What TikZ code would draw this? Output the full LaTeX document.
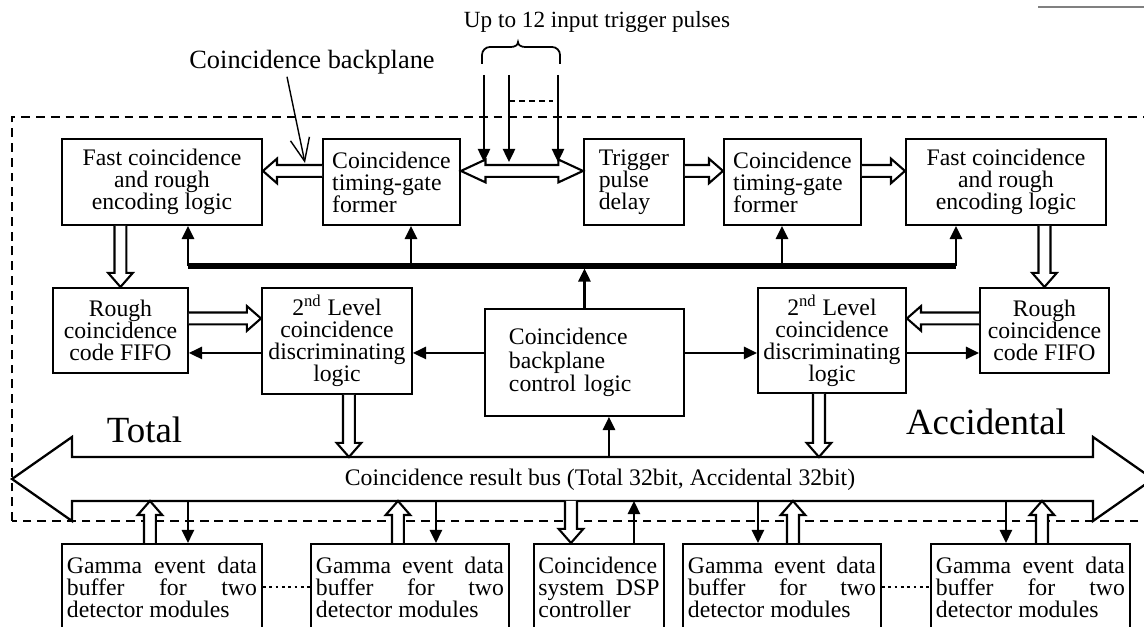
\documentclass[tikz,border=0pt]{standalone}
\usepackage{fontspec}
\setmainfont{Liberation Serif}
\usetikzlibrary{calc, arrows.meta}

\newcommand{\boxfont}{\fontsize{13.5}{12.5}\selectfont}
% hollow bus arrow: [head length]{start}{tip}
\newcommand{\fatarrow}[3][8pt]{%
  \draw[fatline] let \p1=#2, \p2=#3,
      \n1={atan2(\y2-\y1,\x2-\x1)}, \n2={veclen(\x2-\x1,\y2-\y1)} in
    [shift={(\p1)}, rotate=\n1]
    (0pt,3.4pt) -- ({\n2*1pt-#1},3.4pt) -- ({\n2*1pt-#1},7pt) -- ({\n2*1pt},0pt)
    -- ({\n2*1pt-#1},-7pt) -- ({\n2*1pt-#1},-3.4pt) -- (0pt,-3.4pt);
}
% hollow arrow with two heads
\newcommand{\fatdouble}[3][14pt]{%
  \draw[fatline] let \p1=#2, \p2=#3,
      \n1={atan2(\y2-\y1,\x2-\x1)}, \n2={veclen(\x2-\x1,\y2-\y1)} in
    [shift={(\p1)}, rotate=\n1]
    (0pt,0pt) -- (#1,6.5pt) -- (#1,3.4pt) -- ({\n2*1pt-#1},3.4pt) -- ({\n2*1pt-#1},6.5pt)
    -- ({\n2*1pt},0pt) -- ({\n2*1pt-#1},-6.5pt) -- ({\n2*1pt-#1},-3.4pt) -- (#1,-3.4pt)
    -- (#1,-6.5pt) -- cycle;
}

\begin{document}
\begin{tikzpicture}[
    block/.style={draw, line width=1.1pt, inner sep=1pt, font=\boxfont,
      align=center, anchor=north west, minimum height=1.72cm},
    leftblock/.style={block, align=left},
    justblock/.style={draw, line width=1.1pt, font=\boxfont, align=justify,
      anchor=north west, inner xsep=0.1cm, inner ysep=0.26cm},
    fatline/.style={line width=1.2pt, fill=white, line join=miter},
    arrowstyle/.style={line width=1.2pt, -{Triangle[length=7.5pt, width=7pt]}},
    thickbus/.style={line width=2.9pt},
    frame/.style={line width=1.3pt, dash pattern=on 5pt off 3.4pt},
    dotline/.style={line width=1.5pt, dash pattern=on 1.5pt off 2.1pt},
    pointer/.style={line width=0.8pt, -{Straight Barb[length=13pt, width=11pt]}}
  ]
    \useasboundingbox (0,0) rectangle (22.88,12.54);

    % outer dashed frame and result bus
    \draw[frame] (0.24,2.12) rectangle (23.5,10.20);
    \draw[line width=1.3pt, fill=white] (0.24,2.96) -- (1.44,3.80) -- (1.44,3.40)
      -- (21.86,3.40) -- (21.86,3.80) -- (23.06,2.96) -- (21.86,2.12)
      -- (21.86,2.52) -- (1.44,2.52) -- (1.44,2.12) -- cycle;
    \coordinate (busT) at (0,3.40);
    \coordinate (busB) at (0,2.52);
    \draw[gray, line width=0.6pt] (20.76,12.40) -- (22.88,12.40);

    % labels
    \node[font=\fontsize{13.2}{15}\selectfont, anchor=base] (ttl) at (11.94,11.98)
      {Up to 12 input trigger pulses};
    \node[font=\fontsize{15}{17}\selectfont, anchor=base, inner sep=1pt] (bkp)
      at (6.24,11.16) {Coincidence backplane};
    \node[font=\fontsize{21}{24}\selectfont, anchor=base] (tot) at (2.89,3.68) {Total};
    \node[font=\fontsize{21}{24}\selectfont, anchor=base] (acc) at (19.72,3.84) {Accidental};
    \node[font=\boxfont] (buslbl) at (12.0,2.94)
      {Coincidence result bus (Total 32bit, Accidental 32bit)};

    % top row
    \node[block, minimum width=4cm] (fcl) at (1.22,9.78)
      {Fast coincidence\\and rough\\encoding logic};
    \node[leftblock, minimum width=2.74cm] (tgl) at (6.44,9.78)
      {Coincidence\\timing-gate\\former};
    \node[leftblock, minimum width=2cm] (tpd) at (11.66,9.78)
      {Trigger\\pulse\\delay};
    \node[leftblock, minimum width=2.74cm] (tgr) at (14.46,9.78)
      {Coincidence\\timing-gate\\former};
    \node[block, minimum width=4cm] (fcr) at (18.10,9.78)
      {Fast coincidence\\and rough\\encoding logic};

    % middle row
    \node[block, minimum width=2.7cm, minimum height=1.7cm] (fifol) at (1.04,6.80)
      {Rough\\coincidence\\code FIFO};
    \node[block, minimum width=3cm, minimum height=2.12cm] (lvll) at (5.22,6.80)
      {2\textsuperscript{nd} Level\\coincidence\\discriminating\\logic};
    \node[leftblock, minimum height=2.14cm, text width=3.02cm, inner xsep=0.48cm,
      font=\fontsize{13.5}{13.5}\selectfont] (ctrl) at (9.68,6.38)
      {Coincidence\\backplane\\control logic};
    \node[block, minimum width=2.96cm, minimum height=2.10cm] (lvlr) at (15.14,6.80)
      {2\textsuperscript{nd} Level\\coincidence\\discriminating\\logic};
    \node[block, minimum width=2.58cm, minimum height=1.7cm] (fifor) at (19.58,6.80)
      {Rough\\coincidence\\code FIFO};

    % bottom row
    \node[justblock, text width=3.8cm] (g1) at (1.22,1.68)
      {Gamma event data\linebreak buffer for two\linebreak detector modules};
    \node[justblock, text width=3.76cm] (g2) at (6.20,1.68)
      {Gamma event data\linebreak buffer for two\linebreak detector modules};
    \node[justblock, text width=2.42cm, inner xsep=0.09cm] (dsp) at (10.66,1.68)
      {Coincidence\linebreak system DSP\linebreak controller};
    \node[justblock, text width=3.76cm] (g3) at (13.64,1.68)
      {Gamma event data\linebreak buffer for two\linebreak detector modules};
    \node[justblock, text width=3.78cm] (g4) at (18.60,1.68)
      {Gamma event data\linebreak buffer for two\linebreak detector modules};

    % input trigger pulses
    \coordinate (in1) at (9.68,11.04);
    \coordinate (in2) at (10.18,11.04);
    \coordinate (in3) at (11.16,11.04);
    \coordinate (tp) at (0,9.30);
    \coordinate (dd) at (11.06,10.52);
    \draw[line width=1pt] (9.64,11.26) -- (9.64,11.44) to[out=90,in=180] (9.80,11.60)
      -- (10.22,11.60) to[out=0,in=270] (10.36,11.70) to[out=270,in=180] (10.50,11.60)
      -- (11.04,11.60) to[out=0,in=90] (11.20,11.44) -- (11.20,11.26);
    \foreach \i in {in1,in2,in3}
      \draw[arrowstyle] (\i) -- (\i |- tp);
    \draw[line width=1.1pt, dash pattern=on 3.4pt off 2.3pt] (in2 |- dd) -- (dd);

    % hollow arrows, top row
    \fatarrow{([yshift=0.22cm]tgl.west)}{([yshift=0.22cm]fcl.east)}
    \fatdouble{([yshift=0.22cm]tgl.east)}{([yshift=0.22cm]tpd.west)}
    \fatarrow{([yshift=0.22cm]tpd.east)}{([yshift=0.22cm]tgr.west)}
    \fatarrow{([yshift=0.22cm]tgr.east)}{([yshift=0.22cm]fcr.west)}
    \fatarrow{(fifol.north |- fcl.south)}{(fifol.north)}
    \fatarrow{(fifor.north |- fcr.south)}{(fifor.north)}

    % hollow arrows, middle row
    \coordinate (q1) at ([yshift=0.24cm]fifol.east);
    \coordinate (q2) at ([yshift=0.24cm]fifor.west);
    \coordinate (q3) at ([xshift=0.24cm]lvll.south);
    \coordinate (q4) at ([xshift=-0.26cm]lvlr.south);
    \fatarrow{(q1)}{(q1 -| lvll.west)}
    \fatarrow{(q2)}{(q2 -| lvlr.east)}
    \fatarrow{(q3)}{(q3 |- busT)}
    \fatarrow{(q4)}{(q4 |- busT)}

    % hollow arrows, bottom row
    \coordinate (q5) at ([xshift=-0.24cm]g1.north);
    \coordinate (q6) at ([xshift=-0.24cm]g2.north);
    \coordinate (q7) at ([xshift=-0.56cm]dsp.north);
    \coordinate (q8) at ([xshift=0.22cm]g3.north);
    \coordinate (q9) at ([xshift=0.23cm]g4.north);
    \fatarrow{(q5)}{(q5 |- busB)}
    \fatarrow{(q6)}{(q6 |- busB)}
    \fatarrow{(q7 |- busB)}{(q7)}
    \fatarrow{(q8)}{(q8 |- busB)}
    \fatarrow{(q9)}{(q9 |- busB)}

    % control bus
    \coordinate (cb1) at (3.76,7.22);
    \coordinate (cb2) at (8.22,7.22);
    \coordinate (cb3) at (15.64,7.22);
    \coordinate (cb4) at (19.12,7.22);
    \draw[thickbus] (cb1) -- (cb4);
    \draw[arrowstyle] (cb1) -- (cb1 |- fcl.south);
    \draw[arrowstyle] (cb2) -- (cb2 |- tgl.south);
    \draw[arrowstyle] (cb3) -- (cb3 |- tgr.south);
    \draw[arrowstyle] (cb4) -- (cb4 |- fcr.south);
    \draw[arrowstyle, shorten >=1.4pt] (ctrl.north) -- (ctrl.north |- cb1);

    % single arrows, middle row
    \coordinate (r1) at ([yshift=0.19cm]ctrl.west);
    \coordinate (r2) at ([yshift=0.19cm]ctrl.east);
    \coordinate (r3) at ([yshift=-0.24cm]lvll.west);
    \coordinate (r4) at ([yshift=-0.25cm]lvlr.east);
    \coordinate (r5) at ([xshift=0.49cm]ctrl.south);
    \draw[arrowstyle] (r1) -- (r1 -| lvll.east);
    \draw[arrowstyle] (r2) -- (r2 -| lvlr.west);
    \draw[arrowstyle] (r3) -- (r3 -| fifol.east);
    \draw[arrowstyle] (r4) -- (r4 -| fifor.west);
    \draw[arrowstyle] (r5 |- busT) -- (r5);

    % single arrows, bottom row
    \coordinate (r6) at ([xshift=0.52cm]g1.north);
    \coordinate (r7) at ([xshift=0.52cm]g2.north);
    \coordinate (r8) at ([xshift=0.70cm]dsp.north);
    \coordinate (r9) at ([xshift=-0.48cm]g3.north);
    \coordinate (r10) at ([xshift=-0.49cm]g4.north);
    \draw[arrowstyle] (r6 |- busB) -- (r6);
    \draw[arrowstyle] (r7 |- busB) -- (r7);
    \draw[arrowstyle] (r8) -- (r8 |- busB);
    \draw[arrowstyle] (r9 |- busB) -- (r9);
    \draw[arrowstyle] (r10 |- busB) -- (r10);

    % dotted links between buffers
    \coordinate (d1) at ([yshift=-0.88cm]g1.north east);
    \coordinate (d2) at ([yshift=-0.88cm]g3.north east);
    \draw[dotline] (d1) -- (d1 -| g2.west);
    \draw[dotline] (d2) -- (d2 -| g4.west);

    % backplane pointer
    \coordinate (bp) at (6.10,9.28);
    \draw[pointer] ([xshift=-0.5cm]bkp.south) -- (bp);
\end{tikzpicture}
\end{document}
